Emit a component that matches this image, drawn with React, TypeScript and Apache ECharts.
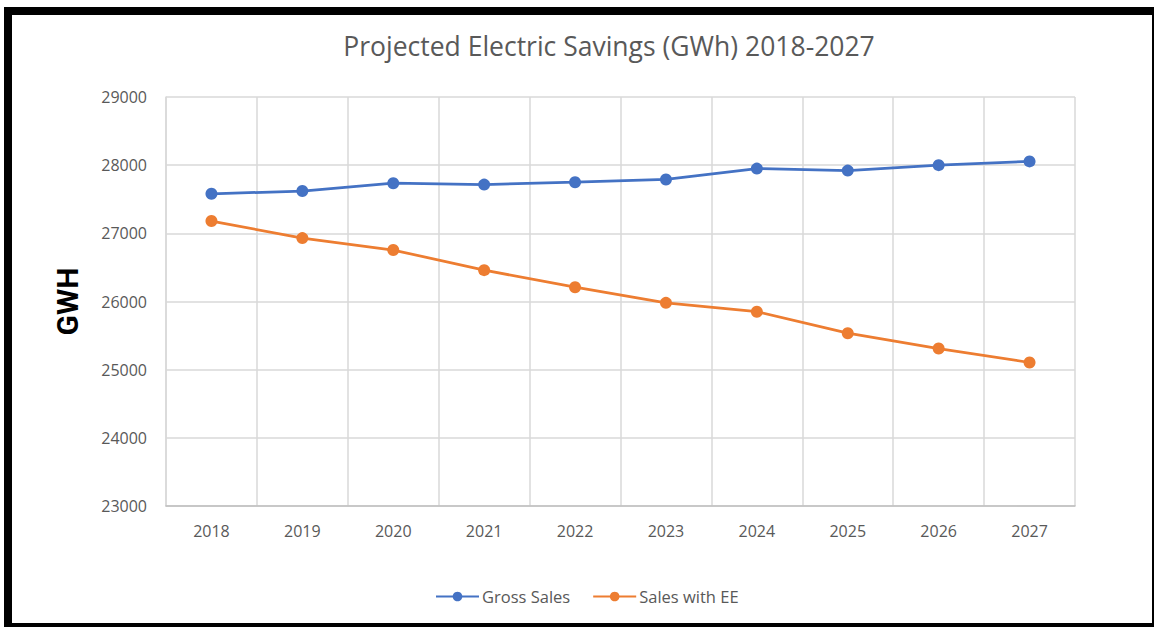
import React, { useEffect, useRef } from "react";
import * as echarts from "echarts";

const years = ["2018", "2019", "2020", "2021", "2022", "2023", "2024", "2025", "2026", "2027"];
const grossSales = [27580, 27620, 27735, 27715, 27750, 27790, 27950, 27920, 28000, 28055];
const salesWithEE = [27180, 26930, 26755, 26460, 26210, 25980, 25850, 25535, 25310, 25105];
const yMin = 23000;
const yMax = 29000;
const yStep = 1000;

const FONT = "'Open Sans', 'Noto Sans', sans-serif";
const TEXT = "#595959";

export default function App() {
  const ref = useRef<HTMLDivElement>(null);
  useEffect(() => {
    if (!ref.current) return;
    const chart = echarts.init(ref.current, null, { renderer: "svg" });
    chart.setOption({
      animation: false,
      backgroundColor: "#ffffff",
      title: {
        text: "Projected Electric Savings (GWh) 2018-2027",
        left: 604,
        textAlign: "center",
        top: 27,
        textStyle: { fontFamily: FONT, fontSize: 26.5, fontWeight: "normal", color: TEXT },
      },
      grid: { left: 166, top: 97, right: 79, bottom: 121, containLabel: false },
      legend: {
        left: 430,
        top: 583,
        itemWidth: 43,
        itemHeight: 12,
        itemGap: 22,
        textStyle: { fontFamily: FONT, fontSize: 16.5, color: TEXT, padding: [0, 0, 0, -2] },
        data: ["Gross Sales", "Sales with EE"],
      },
      xAxis: {
        type: "category",
        data: years,
        boundaryGap: true,
        axisTick: { show: false },
        axisLine: { lineStyle: { color: "#bfbfbf", width: 1.5 } },
        axisLabel: { fontFamily: FONT, fontSize: 16, color: TEXT, margin: 17 },
        splitLine: { show: true, lineStyle: { color: "#d9d9d9", width: 1.5 } },
      },
      yAxis: {
        type: "value",
        min: yMin,
        max: yMax,
        interval: yStep,
        name: "GWH",
        nameLocation: "middle",
        nameGap: 84,
        nameRotate: 90,
        nameTextStyle: { fontFamily: "Roboto, sans-serif", fontWeight: "bold", fontSize: 30, color: "#000000" },
        axisLine: { show: true, lineStyle: { color: "#d9d9d9", width: 1.5 } },
        axisTick: { show: false },
        axisLabel: { fontFamily: FONT, fontSize: 16, color: TEXT, margin: 19, formatter: (v: number) => String(v) },
        splitLine: { show: true, lineStyle: { color: "#d9d9d9", width: 1.5 } },
      },
      series: [
        {
          name: "Gross Sales",
          type: "line",
          data: grossSales,
          symbol: "circle",
          symbolSize: 12,
          itemStyle: { color: "#4472C4" },
          lineStyle: { color: "#4472C4", width: 2.75 },
        },
        {
          name: "Sales with EE",
          type: "line",
          data: salesWithEE,
          symbol: "circle",
          symbolSize: 12,
          itemStyle: { color: "#ED7D31" },
          lineStyle: { color: "#ED7D31", width: 2.75 },
        },
      ],
      graphic: [
        { type: "rect", shape: { x: 4, y: 7, width: 8, height: 620 }, style: { fill: "#000" }, silent: true },
        { type: "rect", shape: { x: 4, y: 7, width: 1150, height: 8 }, style: { fill: "#000" }, silent: true },
        { type: "rect", shape: { x: 1152, y: 7, width: 2, height: 620 }, style: { fill: "#000" }, silent: true },
        { type: "rect", shape: { x: 4, y: 623, width: 1150, height: 4 }, style: { fill: "#000" }, silent: true },
      ],
    });
    return () => chart.dispose();
  }, []);
  return (
    <div
      ref={ref}
      style={{ position: "fixed", left: 0, top: 0, width: 1154, height: 627 }}
    />
  );
}
